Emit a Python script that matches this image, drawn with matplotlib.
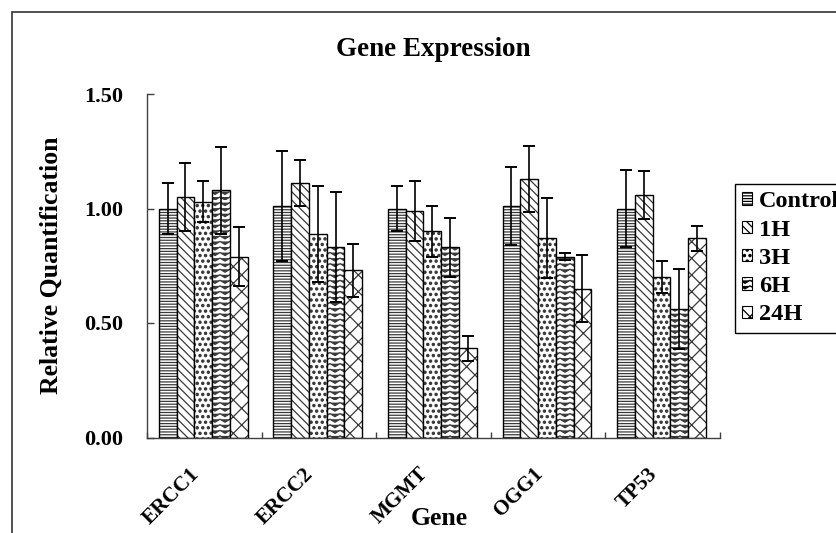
"""
Gene Expression - relative quantification per gene and time point
bar chart with hatched fills, excel style
"""

import numpy as np
import matplotlib
matplotlib.use('Agg')
import matplotlib.pyplot as plt
import matplotlib.hatch as mhatch
from matplotlib.path import Path
from matplotlib.patches import Patch, Rectangle

genes = ['ERCC1', 'ERCC2', 'MGMT', 'OGG1', 'TP53']
series = ['Control', '1H', '3H', '6H', '24H']

control = [1.00, 1.01, 1.00, 1.01, 1.00]
h1 = [1.05, 1.11, 0.99, 1.13, 1.06]
h3 = [1.03, 0.89, 0.90, 0.87, 0.70]
h6 = [1.08, 0.83, 0.83, 0.79, 0.56]
h24 = [0.79, 0.73, 0.39, 0.65, 0.87]

err_control = [0.11, 0.24, 0.10, 0.17, 0.17]
err_h1 = [0.15, 0.10, 0.13, 0.145, 0.105]
err_h3 = [0.09, 0.21, 0.11, 0.175, 0.07]
err_h6 = [0.19, 0.24, 0.13, 0.015, 0.175]
err_h24 = [0.13, 0.115, 0.055, 0.145, 0.055]

valores = [control, h1, h3, h6, h24]
erros = [err_control, err_h1, err_h3, err_h6, err_h24]


# zig zag fill (excel has it, matplotlib not) -> takes the place of '*'
class ZigZagHatch(mhatch.HatchPatternBase):
    def __init__(self, hatch, density):
        self.num_lines = hatch.count('*') * density
        self.teeth = 10
        self.num_vertices = self.num_lines * (2 * self.teeth + 1)

    def set_vertices_and_codes(self, vertices, codes):
        n = 2 * self.teeth + 1
        xs = np.linspace(0, 1, n)
        amp = 0.03
        for i in range(self.num_lines):
            y0 = i / self.num_lines
            ys = y0 + np.where(np.arange(n) % 2 == 0, amp, 0.0)
            vertices[i * n:(i + 1) * n, 0] = xs
            vertices[i * n:(i + 1) * n, 1] = ys
            codes[i * n] = Path.MOVETO
            codes[i * n + 1:(i + 1) * n] = Path.LINETO


mhatch._hatch_types = [ZigZagHatch if t is mhatch.Stars else t
                       for t in mhatch._hatch_types]
mhatch.SmallFilledCircles.size = 0.2

plt.rcParams['font.family'] = 'Liberation Serif'
plt.rcParams['font.weight'] = 'bold'
plt.rcParams['hatch.linewidth'] = 0.9

hatches = ['------', '\\\\\\\\', '...', '***', 'xx']
cor_hatch = '#3a3a3a'

fig = plt.figure(figsize=(8.37, 5.33), dpi=100)
ax = fig.add_axes([147 / 837, 1 - 437.5 / 533, 573 / 837, 343.5 / 533])

x = np.arange(len(genes)) + 0.49
w = 0.155
for k in range(len(series)):
    pos = x + (k - 2) * w
    ax.bar(pos, valores[k], w, color='white', edgecolor=cor_hatch,
           hatch=hatches[k], linewidth=0)
    ax.bar(pos, valores[k], w, fill=False, edgecolor='black', linewidth=1.0,
           yerr=erros[k], error_kw=dict(ecolor='black', elinewidth=1.2,
                                        capsize=4.6, capthick=1.4))

ax.set_xlim(0, 5)
ax.set_ylim(0, 1.5)
ax.set_yticks([0, 0.5, 1.0, 1.5])
ax.set_yticklabels(['%.2f' % v for v in [0, 0.5, 1.0, 1.5]], fontsize=16)
ax.tick_params(axis='y', direction='in', length=5, width=1, pad=17,
               color='#404040')

# ticks nos limites das categorias, labels no centro
ax.set_xticks(np.arange(len(genes) + 1))
ax.set_xticklabels([])
ax.tick_params(axis='x', which='major', direction='in', length=4.3, width=1,
               color='#404040')
ax.set_xticks(x, minor=True)
ax.set_xticklabels(genes, minor=True, rotation=45, ha='right', va='top',
                   fontsize=15.3)
ax.tick_params(axis='x', which='minor', length=0, pad=19)

for s in ['top', 'right']:
    ax.spines[s].set_visible(False)
for s in ['left', 'bottom']:
    ax.spines[s].set_color('#404040')
    ax.spines[s].set_linewidth(1.0)

ax.set_title('Gene Expression', fontsize=19.5, fontweight='bold', pad=27)
ax.set_ylabel('Relative Quantification', fontsize=18.5, fontweight='bold')
ax.yaxis.set_label_coords(-0.147, 0.5)
ax.set_xlabel('Gene', fontsize=18.5, fontweight='bold')
ax.xaxis.set_label_coords(0.51, -0.255)
ax.xaxis.label.set_verticalalignment('baseline')

# legenda fora do grafico, cortada na direita como no original
handles = [Patch(facecolor='white', edgecolor='black', hatch=h, linewidth=0.8)
           for h in hatches]
fig.legend(handles, series, loc='upper left',
           bbox_to_anchor=(735 / 837, 1 - 184 / 533),
           prop=dict(family='Liberation Serif', weight='bold', size=17.5),
           frameon=True, fancybox=False, edgecolor='black', framealpha=1,
           handlelength=0.4, handleheight=0.4, handletextpad=0.3,
           labelspacing=0.3, borderpad=0.3, borderaxespad=0)

# moldura do grafico (sai pela direita e por baixo)
fig.patches.append(Rectangle((12 / 837, -0.1), 1.2, 1 - 12 / 533 + 0.1,
                             transform=fig.transFigure, fill=False,
                             edgecolor='#333333', linewidth=1.2))

fig.savefig('out.png', dpi=100)
